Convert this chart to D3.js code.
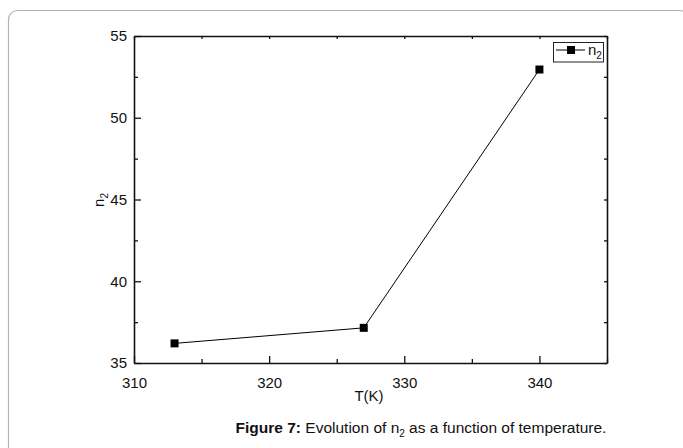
<!DOCTYPE html>
<html><head><meta charset="utf-8">
<script src="https://cdn.jsdelivr.net/npm/d3@7/dist/d3.min.js"></script>
<style>body{margin:0;background:#fff}svg{display:block}</style>
</head><body>
<script>
const temperatures = [313, 327, 340];
const n2Values = [36.2, 37.15, 52.95];
const xTicks = [310, 320, 330, 340];
const yTicks = [35, 40, 45, 50, 55];
const seriesName = "n";
const seriesSub = "2";

const W = 683, H = 448;
const FONT = "'Liberation Sans', Arial, sans-serif";
const svg = d3.select("body").append("svg").attr("width", W).attr("height", H)
  .style("font-family", FONT);

// outer frame
svg.append("rect").attr("x", 8.5).attr("y", 10.5).attr("width", 680).attr("height", 460)
  .attr("rx", 9).attr("fill", "none").attr("stroke", "#b3b3b3").attr("stroke-width", 1.2);

const L = 134, R = 607, T = 36, B = 363;
const x = d3.scaleLinear().domain([310, 345]).range([L, R]);
const y = d3.scaleLinear().domain([35, 55]).range([B, T]);

const g = svg.append("g");
const minorX = d3.range(310, 345.1, 5);
const minorY = d3.range(35, 55.1, 2.5);

function styleLabels(a) {
  a.select(".domain").remove();
  a.attr("font-size", null).attr("font-family", null);
  a.selectAll("text").style("font-size", "15px").attr("fill", "#111").style("font-family", FONT);
}

// bottom axis
const bx = g.append("g").attr("transform", `translate(0,${B})`)
  .call(d3.axisBottom(x).tickValues(minorX).tickSizeInner(-4).tickSizeOuter(0).tickFormat(""));
bx.selectAll(".tick line").attr("y2", d => xTicks.includes(d) ? -7 : -4);
g.append("g").attr("transform", `translate(0,${B})`)
  .call(d3.axisBottom(x).tickValues(xTicks).tickSize(0).tickPadding(14).tickFormat(d3.format("d")))
  .call(styleLabels);

// top axis
const tx = g.append("g").attr("transform", `translate(0,${T})`)
  .call(d3.axisTop(x).tickValues(minorX).tickSizeInner(-3).tickSizeOuter(0).tickFormat(""));
tx.selectAll(".tick line").attr("y2", 3);

// left axis
const ly = g.append("g").attr("transform", `translate(${L},0)`)
  .call(d3.axisLeft(y).tickValues(minorY).tickSizeInner(-4).tickSizeOuter(0).tickFormat(""));
ly.selectAll(".tick line").attr("x2", d => yTicks.includes(d) ? 7 : 4);
g.append("g").attr("transform", `translate(${L},0)`)
  .call(d3.axisLeft(y).tickValues(yTicks).tickSize(0).tickPadding(7).tickFormat(d3.format("d")))
  .call(styleLabels);

// right axis
const ry = g.append("g").attr("transform", `translate(${R},0)`)
  .call(d3.axisRight(y).tickValues(minorY).tickSizeInner(-3).tickSizeOuter(0).tickFormat(""));
ry.selectAll(".tick line").attr("x2", -3);

g.selectAll(".domain").attr("stroke", "#111").attr("stroke-width", 1.6);
g.selectAll(".tick line").attr("stroke", "#111").attr("stroke-width", 1.3);

// data
const pts = temperatures.map((t, i) => [t, n2Values[i]]);
g.append("path").datum(pts)
  .attr("d", d3.line().x(d => x(d[0])).y(d => y(d[1])))
  .attr("fill", "none").attr("stroke", "#000").attr("stroke-width", 1);
g.selectAll("rect.pt").data(pts).join("rect").attr("class", "pt")
  .attr("x", d => x(d[0]) - 4).attr("y", d => y(d[1]) - 4)
  .attr("width", 8).attr("height", 8).attr("fill", "#000");

// legend
const lg = svg.append("g").attr("transform", "translate(553,42)");
lg.append("rect").attr("x", 0.5).attr("y", 0.5).attr("width", 50).attr("height", 19.5)
  .attr("fill", "#fff").attr("stroke", "#222").attr("stroke-width", 1);
lg.append("line").attr("x1", 3).attr("x2", 32).attr("y1", 8).attr("y2", 8).attr("stroke", "#000");
lg.append("rect").attr("x", 14).attr("y", 4).attr("width", 8).attr("height", 8).attr("fill", "#000");
const lt = lg.append("text").attr("x", 35).attr("y", 13).style("font-size", "15px").attr("fill", "#111");
lt.append("tspan").text(seriesName);
lt.append("tspan").attr("dy", 4).style("font-size", "10px").text(seriesSub);

// axis titles
svg.append("text").attr("x", 369).attr("y", 401).attr("text-anchor", "middle")
  .style("font-size", "15px").attr("fill", "#111").text("T(K)");
const yl = svg.append("text").attr("transform", "translate(104,200) rotate(-90)")
  .attr("text-anchor", "middle").style("font-size", "15px").attr("fill", "#111");
yl.append("tspan").text("n");
yl.append("tspan").attr("dy", 4).style("font-size", "10px").text("2");

// caption
const cap = svg.append("text").attr("x", 421).attr("y", 433).attr("text-anchor", "middle")
  .style("font-size", "15.5px").attr("fill", "#111");
cap.append("tspan").attr("font-weight", "bold").text("Figure 7:");
cap.append("tspan").text(" Evolution of n");
cap.append("tspan").attr("dy", 4).style("font-size", "10px").text("2");
cap.append("tspan").attr("dy", -4).text(" as a function of temperature.");
</script>
</body></html>
